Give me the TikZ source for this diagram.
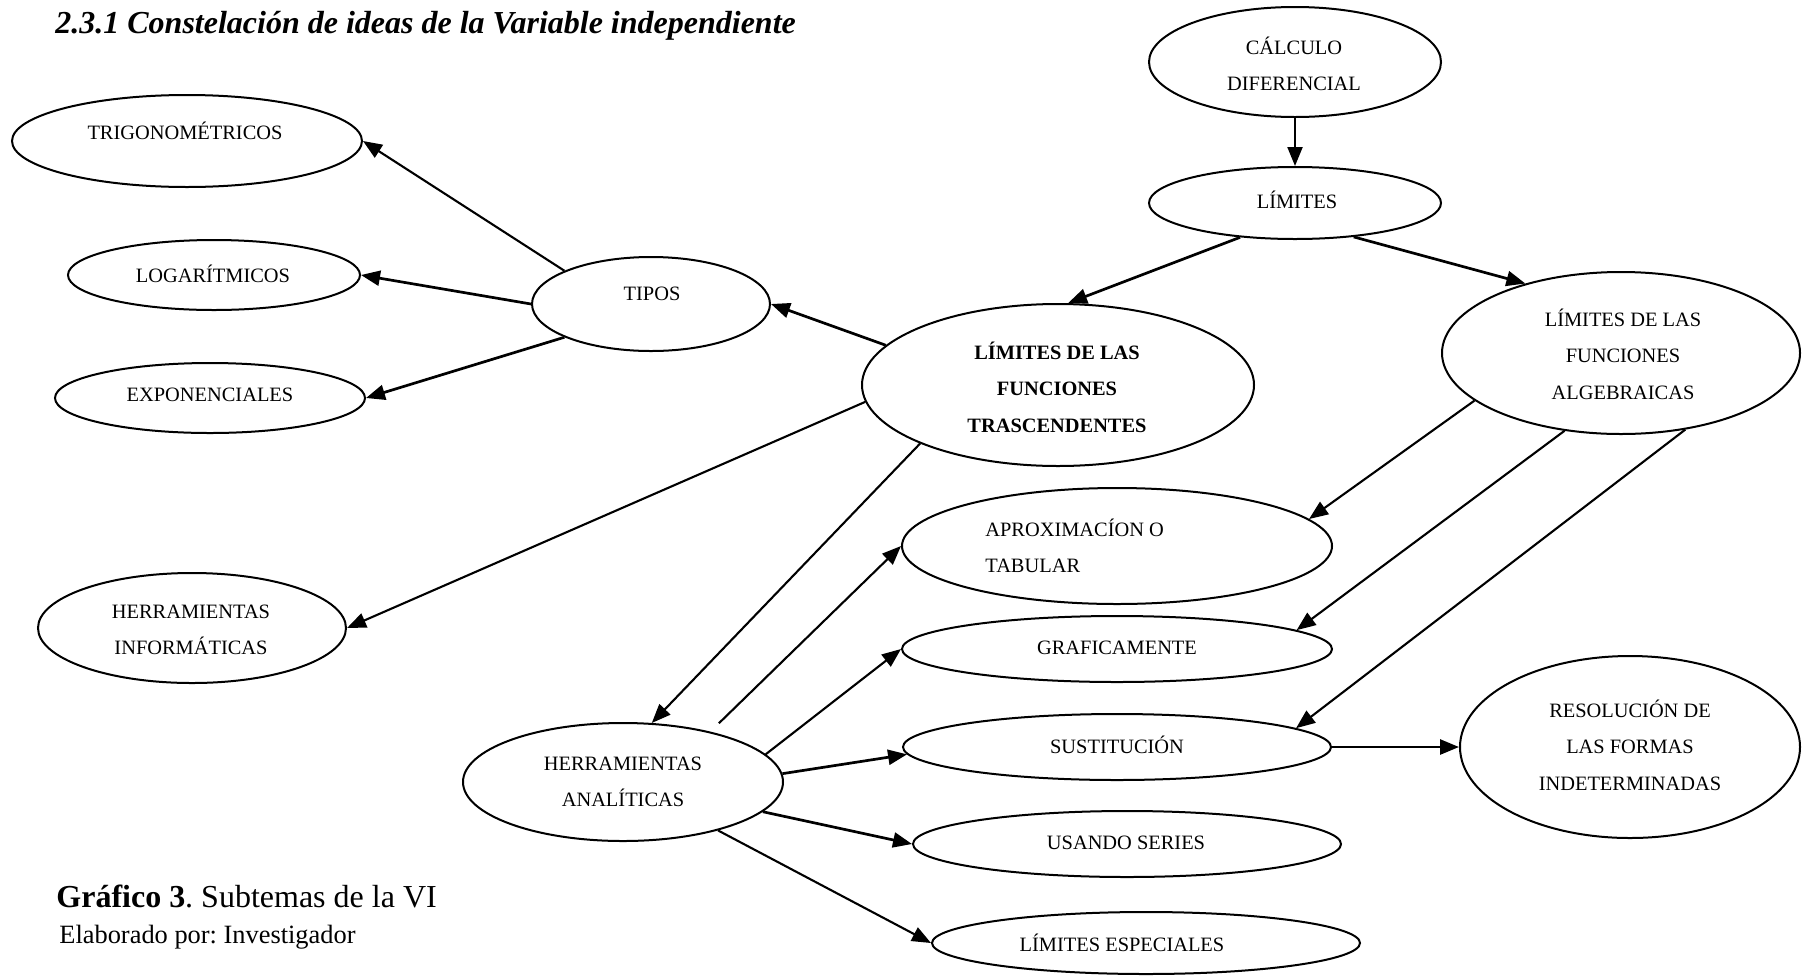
\documentclass[tikz,border=0pt]{standalone}
\usepackage{fontspec}
\setmainfont{Liberation Serif}
\usetikzlibrary{shapes.geometric,arrows.meta}
\frenchspacing
\begin{document}
\begin{tikzpicture}[x=0.5pt,y=-0.5pt,
  bubble/.style={draw, ellipse, line width=1pt, inner sep=0pt},
  lbl/.style={inner sep=0pt, align=center, font=\fontsize{10.2}{18.3}\selectfont},
  link/.style={line width=1.35pt, -{Triangle[length=9.5pt,width=7.5pt]}},
  slim link/.style={link, line width=1.05pt},
]
\useasboundingbox (0,0) rectangle (1802,975);

% heading
\node[anchor=base west, inner sep=0pt, font=\fontsize{16}{19}\selectfont\bfseries\itshape] (title) at (55,33)
  {2.3.1 Constelación de ideas de la Variable independiente};

% ellipses (centre in px, half axes as pt sizes)
\node[bubble, minimum width=175pt, minimum height=46pt] (trig)  at (187,141) {};
\node[bubble, minimum width=146pt, minimum height=35pt] (log)   at (214,275) {};
\node[bubble, minimum width=155pt, minimum height=35pt] (exp)   at (210,398) {};
\node[bubble, minimum width=119pt, minimum height=47pt] (tipos) at (651,304) {};
\node[bubble, minimum width=146pt, minimum height=55pt] (calc)  at (1295,62) {};
\node[bubble, minimum width=146pt, minimum height=36pt] (lim)   at (1295,203) {};
\node[bubble, minimum width=196pt, minimum height=81pt] (trasc) at (1058,385) {};
\node[bubble, minimum width=179pt, minimum height=81pt] (alg)   at (1621,353) {};
\node[bubble, minimum width=154pt, minimum height=55pt] (hinf)  at (192,628) {};
\node[bubble, minimum width=160pt, minimum height=59pt] (hana)  at (623,782) {};
\node[bubble, minimum width=215pt, minimum height=58pt] (aprox) at (1117,546) {};
\node[bubble, minimum width=215pt, minimum height=33pt] (graf)  at (1117,649) {};
\node[bubble, minimum width=214pt, minimum height=33pt] (sust)  at (1117,747) {};
\node[bubble, minimum width=170pt, minimum height=91pt] (res)   at (1630,747) {};
\node[bubble, minimum width=214pt, minimum height=33pt] (usando) at (1127,844) {};
\node[bubble, minimum width=214pt, minimum height=31pt] (esp)   at (1146,943) {};

% texts
\node[lbl] (trig-t)  at (185,131) {TRIGONOMÉTRICOS};
\node[lbl] (log-t)   at (213,274) {LOGARÍTMICOS};
\node[lbl] (exp-t)   at (210,395) {EXPONENCIALES};
\node[lbl] (tipos-t) at (652,294) {TIPOS};
\node[lbl] (calc-t)  at (1294,64) {CÁLCULO\\DIFERENCIAL};
\node[lbl] (lim-t)   at (1297,200) {LÍMITES};
\node[lbl, font=\fontsize{10.2}{18.3}\selectfont\bfseries] (trasc-t) at (1057,387) {LÍMITES DE LAS\\FUNCIONES\\TRASCENDENTES};
\node[lbl] (alg-t)   at (1623,354) {LÍMITES DE LAS\\FUNCIONES\\ALGEBRAICAS};
\node[lbl] (hinf-t)  at (191,630) {HERRAMIENTAS\\INFORMÁTICAS};
\node[lbl] (hana-t)  at (623,782) {HERRAMIENTAS\\ANALÍTICAS};
\node[lbl, align=left, anchor=west] (aprox-t) at (985,546) {APROXIMACÍON O\\TABULAR};
\node[lbl] (graf-t)  at (1117,648) {GRAFICAMENTE};
\node[lbl] (sust-t)  at (1117,745) {SUSTITUCIÓN};
\node[lbl] (res-t)   at (1630,745) {RESOLUCIÓN DE\\LAS FORMAS\\INDETERMINADAS};
\node[lbl] (usando-t) at (1126,843) {USANDO SERIES};
\node[lbl] (esp-t)   at (1122,943) {LÍMITES ESPECIALES};

% connectors
\draw[slim link] (tipos.159) -- (trig.east);
\draw[link] (tipos.west) -- (log.east);
\draw[link] (tipos.201) -- (exp.east);
\draw[link] (trasc.167) -- (tipos.east);
\draw[slim link] (calc.south) -- (lim.north);
\draw[link] (lim.212) -- (trasc.83);
\draw[link] (lim.330) -- (alg.144);
\draw[slim link] (trasc.185) -- (hinf.east);
\draw[slim link] (trasc.203) -- (hana.64);
\draw[slim link, shorten <=6pt] (hana.30) -- (aprox.west);
\draw[slim link] (hana.11) -- (graf.west);
\draw[link] (hana.3) -- (sust.182);
\draw[link] (hana.348) -- (usando.west);
\draw[slim link] (hana.333) -- (esp.west);
\draw[slim link] (alg.198) -- (aprox.8);
\draw[slim link] (alg.234) -- (graf.6);
\draw[slim link] (alg.310) -- (sust.6);
\draw[link] (sust.east) -- (res.west);

% caption
\node[anchor=base west, inner sep=0pt, font=\fontsize{16}{19}\selectfont] (cap) at (56,907)
  {\textbf{Gráfico 3}. Subtemas de la VI};
\node[anchor=base west, inner sep=0pt, font=\fontsize{13.2}{16}\selectfont] (src) at (59,943)
  {Elaborado por: Investigador};
\end{tikzpicture}
\end{document}
